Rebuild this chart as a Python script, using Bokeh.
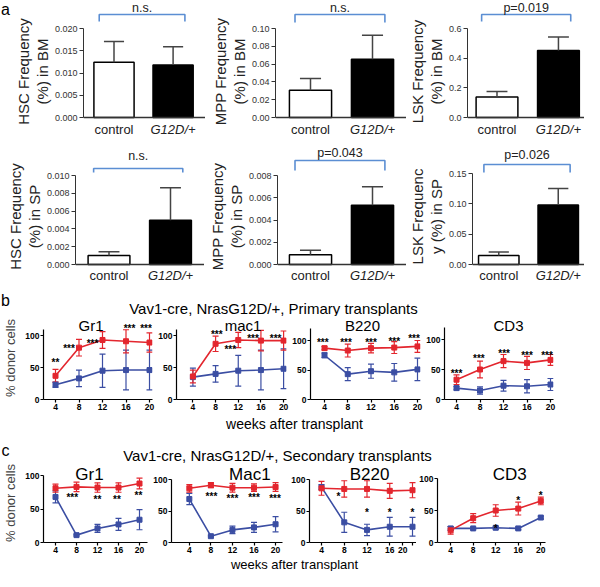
from bokeh.plotting import figure
from bokeh.layouts import column, row
from bokeh.models import Range1d, FixedTicker, Span, ColumnDataSource, Whisker, TeeHead
from bokeh.core.properties import value
from bokeh.embed import file_html
from bokeh.resources import INLINE

FONT = "Liberation Sans"
RED = "#e3262e"
BLUE = "#3b4ea3"
BRACKET = "#5b8ed3"

# ---------------- data: panel a ----------------
GROUPS = ["control", "G12D/+"]
hsc_bm_mean = [0.0124, 0.0118]
hsc_bm_err = [0.0047, 0.0041]
mpp_bm_mean = [0.0307, 0.0655]
mpp_bm_err = [0.0131, 0.0270]
lsk_bm_mean = [0.138, 0.451]
lsk_bm_err = [0.038, 0.091]
hsc_sp_mean = [0.00101, 0.00498]
hsc_sp_err = [0.00041, 0.00363]
mpp_sp_mean = [0.00087, 0.00533]
mpp_sp_err = [0.00042, 0.00165]
lsk_sp_mean = [0.0149, 0.0982]
lsk_sp_err = [0.0055, 0.0270]

hsc_bm_ticks = [0, 0.005, 0.010, 0.015, 0.020]
hsc_bm_labels = ["0.000", "0.005", "0.010", "0.015", "0.020"]
mpp_bm_ticks = [0, 0.02, 0.04, 0.06, 0.08, 0.10]
mpp_bm_labels = ["0.00", "0.02", "0.04", "0.06", "0.08", "0.10"]
lsk_bm_ticks = [0, 0.2, 0.4, 0.6]
lsk_bm_labels = ["0.0", "0.2", "0.4", "0.6"]
hsc_sp_ticks = [0, 0.002, 0.004, 0.006, 0.008, 0.010]
hsc_sp_labels = ["0.000", "0.002", "0.004", "0.006", "0.008", "0.010"]
mpp_sp_ticks = [0, 0.002, 0.004, 0.006, 0.008]
mpp_sp_labels = ["0.000", "0.002", "0.004", "0.006", "0.008"]
lsk_sp_ticks = [0, 0.05, 0.10, 0.15]
lsk_sp_labels = ["0.00", "0.05", "0.10", "0.15"]

stats = ["n.s.", "n.s.", "p=0.019", "n.s.", "p=0.043", "p=0.026"]
ylabels = ["HSC Frequency\n(%) in BM", "MPP Frequency\n(%) in BM", "LSK Frequency\n(%) in BM",
           "HSC Frequency\n(%) in SP", "MPP Frequency\n(%) in SP", "LSK Frequenc\ny (%) in SP"]

# ---------------- data: panels b and c ----------------
weeks = [4, 8, 12, 16, 20]
week_labels = ["4", "8", "12", "16", "20"]
y_ticks = [0, 50, 100]
y_tick_labels = ["0", "50", "100"]

# primary transplants (b)
gr1_p_g12d = [37, 81, 93, 91, 89]
gr1_p_g12d_err = [10, 13, 13, 18, 15]
gr1_p_ctrl = [23, 33, 45, 46, 46]
gr1_p_ctrl_err = [4, 13, 26, 31, 31]
mac1_p_g12d = [36, 87, 93, 92, 92]
mac1_p_g12d_err = [10, 12, 12, 16, 15]
mac1_p_ctrl = [35, 40, 45, 46, 48]
mac1_p_ctrl_err = [14, 13, 24, 31, 31]
b220_p_g12d = [87, 83, 87, 88, 90]
b220_p_g12d_err = [3, 11, 8, 10, 10]
b220_p_ctrl = [75, 43, 48, 46, 51]
b220_p_ctrl_err = [4, 11, 12, 15, 19]
cd3_p_g12d = [33, 50, 64, 61, 66]
cd3_p_g12d_err = [8, 14, 11, 11, 9]
cd3_p_ctrl = [19, 15, 23, 22, 25]
cd3_p_ctrl_err = [3, 6, 9, 11, 10]

gr1_p_star_x = [4, 6.3, 10.3, 16.6, 19.4]
gr1_p_star_y = [62, 85, 92, 116, 116]
gr1_p_star_t = ["**", "***", "***", "***", "***"]
mac1_p_star_x = [8.2, 10.6, 14.6, 18.6]
mac1_p_star_y = [107, 83, 100, 100]
mac1_p_star_t = ["***", "***", "***", "***"]
b220_p_star_x = [3.7, 7.7, 12, 16, 19.4]
b220_p_star_y = [101, 101, 101, 103, 108]
b220_p_star_t = ["***", "***", "***", "***", "***"]
cd3_p_star_x = [4, 7.8, 12.1, 16, 19.4]
cd3_p_star_y = [49, 74, 82, 79, 79]
cd3_p_star_t = ["***", "***", "***", "***", "***"]

# secondary transplants (c)
gr1_s_g12d = [81, 83, 82, 82, 88]
gr1_s_g12d_err = [6, 7, 7, 7, 8]
gr1_s_ctrl = [68, 11, 21, 27, 34]
gr1_s_ctrl_err = [9, 1, 6, 9, 15]
mac1_s_g12d = [86, 91, 87, 87, 88]
mac1_s_g12d_err = [6, 4, 7, 6, 7]
mac1_s_ctrl = [69, 10, 20, 24, 29]
mac1_s_ctrl_err = [9, 1, 6, 8, 12]
b220_s_g12d = [86, 85, 85, 82, 83]
b220_s_g12d_err = [11, 13, 13, 12, 12]
b220_s_ctrl = [88, 32, 20, 25, 25]
b220_s_ctrl_err = [4, 16, 9, 15, 15]
cd3_s_g12d = [19, 38, 50, 53, 65]
cd3_s_g12d_err = [6, 7, 9, 10, 6]
cd3_s_ctrl = [22, 22, 23, 22, 39]
cd3_s_ctrl_err = [3, 1, 2, 2, 2]

gr1_s_star_x = [7.2, 12, 15.7, 19.8]
gr1_s_star_y = [72, 69, 69, 74]
gr1_s_star_t = ["***", "**", "**", "**"]
mac1_s_star_x = [8.1, 12, 16, 19.9]
mac1_s_star_y = [78, 74, 76, 75]
mac1_s_star_t = ["***", "***", "***", "***"]
b220_s_star_x = [7, 12, 16, 20]
b220_s_star_y = [77, 52, 52, 52]
b220_s_star_t = ["*", "*", "*", "*"]
cd3_s_star_x = [12, 16, 20]
cd3_s_star_y = [27, 71, 78]
cd3_s_star_t = ["*", "*", "*"]

b220_s_xticks = [4, 8, 12, 16, 18.3, 20]
b220_s_xlabels = ["4", "8", "12", "16", "20", ""]

title_b = "Vav1-cre, NrasG12D/+, Primary transplants"
title_c = "Vav1-cre, NrasG12D/+, Secondary transplants"
xlabel = "weeks after transplant"
ylabel_line = "% donor cells"


def base_fig(w, h, xr, yr, **kw):
    p = figure(width=w, height=h, x_range=xr, y_range=yr, output_backend="svg",
               toolbar_location=None, min_border=0, **kw)
    p.grid.visible = False
    p.outline_line_color = None
    return p


def blank(w, h):
    return base_fig(w, h, Range1d(0, w), Range1d(0, h), x_axis_location=None, y_axis_location=None)


def add_text(p, xs, ys, texts, size, style="normal", align="center", color="black", yoff=0):
    p.text(x=xs, y=ys, text=texts, text_font=value(FONT), text_font_size=value(size),
           text_font_style=style, text_align=align, text_baseline="middle",
           text_color=color, y_offset=yoff)


def bar_panel(w, h, top, lb, fl, fr, zero, maxpx, cc, gc, ymax, ticks, labels,
              mean, err, ylabel, stat, stat_px, br_px, bre_px, cat_px):
    bottom = top + h
    ppu = (zero - maxpx) / ymax
    yr = Range1d(-(bottom - zero) / ppu, (zero - top) / ppu)
    s = gc - cc
    xr = Range1d(1 - (cc - fl) / s, 2 + (fr - gc) / s)
    p = base_fig(w, h, xr, yr, x_axis_location=None,
                 min_border_left=lb, min_border_right=w - lb - (fr - fl))
    ax = p.yaxis[0]
    ax.bounds = (0, ymax)
    ax.ticker = FixedTicker(ticks=ticks)
    ax.major_label_overrides = dict(zip(ticks, labels))
    ax.minor_tick_line_color = None
    ax.major_tick_in = 0
    ax.major_tick_out = 4
    ax.axis_line_color = "#333333"
    ax.major_tick_line_color = "#333333"
    ax.major_label_text_font = FONT
    ax.major_label_text_font_size = "9px"
    ax.major_label_text_color = "#333333"
    ax.major_label_standoff = 2
    ax.axis_label = ylabel
    ax.axis_label_text_font = FONT
    ax.axis_label_text_font_size = "15px"
    ax.axis_label_text_font_style = "normal"
    ax.axis_label_text_color = "#222222"
    ax.axis_label_standoff = 1
    ax.axis_label_text_line_height = 1.1

    py = lambda page: (zero - page) / ppu
    xs = [i + 1 for i in range(len(GROUPS))]
    tops = [m + e for m, e in zip(mean, err)]
    p.vbar(x=xs, top=mean, bottom=0, width=0.68, fill_color=["white", "black"],
           line_color="black", line_width=1.5)
    p.segment(x0=xs, y0=mean, x1=xs, y1=tops, line_color="#444444", line_width=1.5)
    p.segment(x0=[x - 0.17 for x in xs], y0=tops, x1=[x + 0.17 for x in xs], y1=tops,
              line_color="#444444", line_width=1.5)
    p.add_layout(Span(location=0, dimension="width", line_color="#333333", line_width=1.3))
    # significance bracket
    bl, br = xs[0] - 0.25, xs[1] + 0.2
    p.line(x=[bl, bl, br, br], y=[py(bre_px), py(br_px), py(br_px), py(bre_px)],
           line_color=BRACKET, line_width=1.6)
    add_text(p, [(bl + br) / 2], [py(stat_px)], [stat], "12.5px", color="#222222")
    # category labels
    add_text(p, [xs[0]], [py(cat_px)], [GROUPS[0]], "13px", color="#222222")
    add_text(p, [xs[1]], [py(cat_px)], [GROUPS[1]], "13px", style="italic", color="#222222")
    return p


def line_panel(w, h, top, lb, rb, zero, hund, L, p4, p20, R, ybound,
               g12d, g12d_err, ctrl, ctrl_err, sx, sy, st, title, tx, ty, tsize,
               ylabel=None, xticks=None, xlabels=None):
    ppu = (zero - hund) / 100.0
    yr = Range1d(0, (zero - top) / ppu)
    s = (p20 - p4) / 16.0
    xr = Range1d(4 - (p4 - L) / s, 20 + (R - p20) / s)
    p = base_fig(w, h, xr, yr, min_border_left=lb, min_border_right=rb,
                 min_border_bottom=h - (zero - top))
    if xticks is None:
        xticks, xlabels = weeks, week_labels
    xa = p.xaxis[0]
    xa.ticker = FixedTicker(ticks=xticks)
    xa.major_label_overrides = dict(zip(xticks, xlabels))
    ya = p.yaxis[0]
    ya.bounds = (0, ybound)
    ya.ticker = FixedTicker(ticks=y_ticks)
    ya.major_label_overrides = dict(zip(y_ticks, y_tick_labels))
    for a in (xa, ya):
        a.minor_tick_line_color = None
        a.major_tick_in = 0
        a.major_tick_out = 3
        a.axis_line_color = "black"
        a.axis_line_width = 1.2
        a.major_tick_line_width = 1.2
        a.major_label_text_font = FONT
        a.major_label_text_font_size = "8.5px"
        a.major_label_text_font_style = "bold"
        a.major_label_text_color = "black"
        a.major_label_standoff = 1
    if ylabel:
        ya.axis_label = ylabel
        ya.axis_label_text_font = FONT
        ya.axis_label_text_font_size = "13px"
        ya.axis_label_text_font_style = "normal"
        ya.axis_label_standoff = 4

    for vals, errs, col in ((ctrl, ctrl_err, BLUE), (g12d, g12d_err, RED)):
        src = ColumnDataSource(dict(x=weeks, upper=[v + e for v, e in zip(vals, errs)],
                                    lower=[v - e for v, e in zip(vals, errs)]))
        p.add_layout(Whisker(source=src, base="x", upper="upper", lower="lower",
                             dimension="height", line_color=col, line_width=1.2,
                             upper_head=TeeHead(size=6, line_color=col, line_width=1.2),
                             lower_head=TeeHead(size=6, line_color=col, line_width=1.2)))
        p.line(weeks, vals, line_color=col, line_width=1.6)
        p.scatter(weeks, vals, marker="square", size=5, fill_color=col, line_color=col)
    add_text(p, sx, sy, st, "10px", style="bold", yoff=3)
    add_text(p, [4 + (tx - p4) / s], [(zero - ty) / ppu], [title], tsize)
    return p


# ---------------- row a1 (BM) ----------------
A1_TOP = 8
blank_a = blank(12, 142)
add_text(blank_a, [5], [142 - 8.5], ["a"], "16px")
f_a1 = bar_panel(193, 142, A1_TOP, 65, 85, 213, 125, 36, 117, 179, 0.020, hsc_bm_ticks, hsc_bm_labels,
                 hsc_bm_mean, hsc_bm_err, ylabels[0], stats[0], 15, 22, 29, 137)
f_a2 = bar_panel(201, 142, A1_TOP, 70, 283, 414, 125, 36, 318, 380, 0.10, mpp_bm_ticks, mpp_bm_labels,
                 mpp_bm_mean, mpp_bm_err, ylabels[1], stats[1], 15, 22, 30, 137)
f_a3 = bar_panel(178, 142, A1_TOP, 59, 473, 592, 125, 36, 503, 565.5, 0.6, lsk_bm_ticks, lsk_bm_labels,
                 lsk_bm_mean, lsk_bm_err, ylabels[2], stats[2], 15, 22, 29, 137)

# ---------------- row a2 (SP) ----------------
A2_TOP = 150
f_a4 = bar_panel(204, 148, A2_TOP, 75, 83, 212, 272, 183, 116.5, 178, 0.010, hsc_sp_ticks, hsc_sp_labels,
                 hsc_sp_mean, hsc_sp_err, ylabels[3], stats[3], 163, 176, 180, 283)
f_a5 = bar_panel(202, 148, A2_TOP, 73, 285, 414, 272, 183, 318, 380, 0.008, mpp_sp_ticks, mpp_sp_labels,
                 mpp_sp_mean, mpp_sp_err, ylabels[4], stats[4], 160, 168, 178, 283)
f_a6 = bar_panel(178, 148, A2_TOP, 65, 479, 592, 272, 181, 505.5, 565.5, 0.15, lsk_sp_ticks, lsk_sp_labels,
                 lsk_sp_mean, lsk_sp_err, ylabels[5], stats[5], 162, 172, 180, 283)

# ---------------- header b ----------------
HB_TOP, HB_H = 298, 26
head_b = blank(584, HB_H)
add_text(head_b, [13 - 8], [HB_H - (308 - HB_TOP)], ["b"], "16px")
add_text(head_b, [281 - 8], [HB_H - (316 - HB_TOP)], [title_b], "15px")

# ---------------- row b ----------------
B_TOP, B_H, B_ZERO = 324, 99, 407
b1 = line_panel(155, B_H, B_TOP, 43, 3, B_ZERO, 343, 51, 63, 157, 160, 110,
                gr1_p_g12d, gr1_p_g12d_err, gr1_p_ctrl, gr1_p_ctrl_err,
                gr1_p_star_x, gr1_p_star_y, gr1_p_star_t, "Gr1", 98.5, 333, "15px", ylabel=ylabel_line)
b2 = line_panel(134, B_H, B_TOP, 17, 3, B_ZERO, 343, 180, 197, 291, 294, 110,
                mac1_p_g12d, mac1_p_g12d_err, mac1_p_ctrl, mac1_p_ctrl_err,
                mac1_p_star_x, mac1_p_star_y, mac1_p_star_t, "mac1", 249, 333, "15px")
b3 = line_panel(134, B_H, B_TOP, 21, 3, B_ZERO, 348, 318, 332, 425, 428, 120,
                b220_p_g12d, b220_p_g12d_err, b220_p_ctrl, b220_p_ctrl_err,
                b220_p_star_x, b220_p_star_y, b220_p_star_t, "B220", 370, 333, "15px")
b4 = line_panel(133, B_H, B_TOP, 21, 3, B_ZERO, 347, 452, 464, 558, 561, 120,
                cd3_p_g12d, cd3_p_g12d_err, cd3_p_ctrl, cd3_p_ctrl_err,
                cd3_p_star_x, cd3_p_star_y, cd3_p_star_t, "CD3", 516, 333, "15px")

# ---------------- middle header ----------------
M_TOP, M_H = 423, 48
mid = blank(584, M_H)
add_text(mid, [302 - 8], [M_H - (431 - M_TOP)], [xlabel], "14px")
add_text(mid, [13 - 8], [M_H - (458 - M_TOP)], ["c"], "16px")
add_text(mid, [285 - 8], [M_H - (463 - M_TOP)], [title_c], "15px")

# ---------------- row c ----------------
C_TOP, C_H, C_ZERO = 471, 94, 550
c1 = line_panel(150, C_H, C_TOP, 43, 3, C_ZERO, 483, 51, 63, 147, 155, 100,
                gr1_s_g12d, gr1_s_g12d_err, gr1_s_ctrl, gr1_s_ctrl_err,
                gr1_s_star_x, gr1_s_star_y, gr1_s_star_t, "Gr1", 97, 481.5, "17px", ylabel=ylabel_line)
c2 = line_panel(135, C_H, C_TOP, 20, 3, C_ZERO, 487, 178, 196, 283, 290, 100,
                mac1_s_g12d, mac1_s_g12d_err, mac1_s_ctrl, mac1_s_ctrl_err,
                mac1_s_star_x, mac1_s_star_y, mac1_s_star_t, "Mac1", 257, 481.5, "17px")
c3 = line_panel(131, C_H, C_TOP, 24, 0, C_ZERO, 487, 317, 329, 420, 424, 100,
                b220_s_g12d, b220_s_g12d_err, b220_s_ctrl, b220_s_ctrl_err,
                b220_s_star_x, b220_s_star_y, b220_s_star_t, "B220", 377, 481.5, "17px",
                xticks=b220_s_xticks, xlabels=b220_s_xlabels)
c4 = line_panel(132, C_H, C_TOP, 14, 3, C_ZERO, 486, 438, 452, 548, 553, 100,
                cd3_s_g12d, cd3_s_g12d_err, cd3_s_ctrl, cd3_s_ctrl_err,
                cd3_s_star_x, cd3_s_star_y, cd3_s_star_t, "CD3", 515, 481.5, "17px")

# ---------------- footer ----------------
F_TOP, F_H = 565, 14
foot = blank(584, F_H)
add_text(foot, [302 - 8], [F_H - (572 - F_TOP)], [xlabel], "13px")

layout = column(
    row(blank_a, f_a1, f_a2, f_a3),
    row(f_a4, f_a5, f_a6),
    head_b,
    row(b1, b2, b3, b4),
    mid,
    row(c1, c2, c3, c4),
    foot,
)

open("out.html", "w").write(file_html(layout, INLINE))
